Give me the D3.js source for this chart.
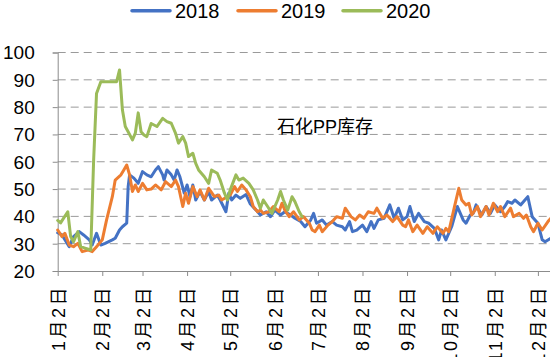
<!DOCTYPE html>
<html><head><meta charset="utf-8">
<script src="https://cdn.jsdelivr.net/npm/d3@7"></script>
<style>
html,body{margin:0;padding:0;background:#fff;}
svg{display:block;font-family:"Liberation Sans",Arial,"Noto Sans CJK SC",sans-serif;}
</style></head>
<body><svg id="chart" width="550" height="357"></svg>
<script>
const seriesNames = ["2018","2019","2020"];
const seriesColors = ["#4472C4","#ED7D31","#9BBB59"];
const yTicks = [20,30,40,50,60,70,80,90,100];
const tickMonths = [1,2,3,4,5,6,7,8,9,10,11,12];
const tickLabels = ["1月2日","2月2日","3月2日","4月2日","5月2日","6月2日","7月2日","8月2日","9月2日","10月2日","11月2日","12月2日"];
const annotation = "石化PP库存";

const dates2018 = ["01-02","01-05","01-10","01-13","01-17","01-20","01-24","01-26","01-29","02-01","02-04","02-09","02-11","02-14","02-16","02-19","02-20","02-21","02-24","02-27","03-02","03-05","03-08","03-11","03-13","03-16","03-17","03-19","03-22","03-24","03-26","03-28","03-31","04-02","04-04","04-06","04-08","04-11","04-14","04-17","04-19","04-23","04-25","04-29","05-01","05-03","05-06","05-09","05-13","05-16","05-20","05-23","05-27","05-30","06-02","06-06","06-09","06-13","06-16","06-20","06-23","06-27","06-29","07-01","07-05","07-08","07-12","07-15","07-19","07-21","07-24","07-26","07-29","08-02","08-05","08-08","08-10","08-13","08-17","08-21","08-24","08-27","08-30","09-02","09-04","09-07","09-10","09-14","09-17","09-21","09-24","09-26","09-29","10-03","10-07","10-11","10-13","10-16","10-18","10-20","10-24","10-27","10-30","11-02","11-06","11-09","11-11","11-14","11-16","11-20","11-23","11-25","11-28","11-30","12-02","12-05","12-07","12-11","12-14"];
const values2018 = [34,33.2,28.9,32.6,34.4,33.2,31.4,29.5,33.8,29.5,30.1,31.4,32,35,36.2,37.5,50.9,55.2,54,52.1,56.4,55.2,54.5,57,58.2,55.2,53.3,57,55.2,53.3,57,54.5,48.5,51.5,47.2,51.5,46,49.1,46,49.1,46,47.8,46,41.7,48.5,46,47.8,46.6,48,44.5,42.3,40.5,41.7,39.9,42.3,40.5,41.7,40.5,39.3,38.1,36.2,38.7,41.1,37.5,38.7,36.8,38.1,36.8,36.2,35,38.1,34.4,35,36.8,34.4,38.1,35.6,38.7,39.3,44.2,39.3,43,38.7,39.9,43.6,38.1,41.1,38.1,37.5,35.6,31.4,35,31.4,36.2,43.6,38.7,37.5,40.5,41.1,44.2,40.5,43.6,41.1,44.2,41.7,43.6,45.4,44.8,46,44.2,46,47.2,39.9,38.7,37.5,31.4,30.7,32,33];

const dates2019 = ["01-02","01-05","01-07","01-10","01-13","01-16","01-19","01-23","01-26","01-29","02-02","02-05","02-09","02-11","02-15","02-17","02-19","02-21","02-23","02-25","02-27","03-02","03-05","03-08","03-11","03-15","03-18","03-22","03-25","03-27","03-30","04-01","04-03","04-06","04-09","04-11","04-14","04-17","04-21","04-24","04-26","04-30","05-02","05-05","05-07","05-10","05-13","05-16","05-18","05-21","05-23","05-25","05-29","06-01","06-05","06-07","06-09","06-12","06-15","06-19","06-22","06-26","06-28","06-30","07-03","07-05","07-09","07-12","07-15","07-19","07-21","07-25","07-28","07-31","08-03","08-06","08-10","08-12","08-16","08-19","08-23","08-26","08-30","09-01","09-03","09-06","09-09","09-13","09-16","09-20","09-23","09-27","09-29","10-01","10-05","10-08","10-10","10-13","10-15","10-17","10-21","10-23","10-27","10-29","11-01","11-04","11-06","11-09","11-13","11-15","11-19","11-22","11-24","11-27","11-29","12-02","12-05","12-09","12-11","12-14"];
const values2019 = [35,32.6,33.8,29.5,28.9,30.1,27.1,27.7,27.1,28.9,31.4,38.7,47.2,53.3,55.2,57,58.8,55.2,49.1,51.5,49.1,52.1,49.7,50,51.5,49.7,52.7,50.9,53.3,50.9,43.6,48.5,44.8,50.9,47.2,49.7,46,50.3,47.2,47.8,46,47.2,47.8,50.9,49.1,51.5,49.7,47.2,43.6,41.7,42.3,41.1,41.7,43.6,41.7,44.8,42.3,39.9,41.7,38.7,39.9,37.5,35,34.4,36.8,34.4,36.8,38.1,39.9,39.3,43,39.9,38.7,40.5,39.3,41.7,41.1,43,39.3,40.5,38.1,39.9,36.8,36.2,38.7,34.4,36.8,33.8,36.2,33.8,36.2,33.8,35.6,34.4,43.6,50.3,46,44.2,44.8,40.5,43.6,39.9,43.6,40.5,44.8,41.7,43.6,39.9,43,39.9,41.1,39.3,40.5,36.2,34.4,37.5,35,38.1,39.3,40];

const dates2020 = ["01-02","01-04","01-09","01-11","01-13","01-16","01-18","01-21","01-25","01-27","01-29","02-01","02-12","02-14","02-16","02-18","02-20","02-23","02-25","02-27","03-01","03-03","03-05","03-08","03-12","03-16","03-19","03-22","03-25","03-27","03-30","04-01","04-03","04-06","04-08","04-10","04-14","04-17","04-19","04-23","04-25","04-28","04-30","05-02","05-06","05-08","05-11","05-15","05-18","05-21","05-23","05-25","05-28","05-31","06-04","06-06","06-08","06-11","06-14","06-16","06-19","06-21"];
const values2020 = [38.5,37.6,41.7,32.6,30.7,34.4,28.9,28.4,27.7,60.7,85,89.3,89.3,93.6,79,72.9,71,68,70.5,77.9,71,69.8,69.2,74,72.9,75.9,74.7,74.1,70.4,66.8,69.2,66.8,61.9,63.1,59.4,57,54.5,52.1,57,55.8,53.3,48.5,46,49.7,55.2,53.3,54,52.1,49.7,46,43,46,43.6,41.1,46,49.1,46,42.3,47.2,45.4,41.7,39.9];

(function(){
// common axis year (non-leap) used to overlay the seasons
const baseYear = 2018;
const parseMD = md => { const [m,d] = md.split("-").map(Number); return new Date(baseYear, m-1, d); };
const allDates = [dates2018, dates2019, dates2020];
const allValues = [values2018, values2019, values2020];
const series = seriesNames.map((name,i) => ({
  name, color: seriesColors[i],
  points: allDates[i].map((md,j) => ({date: parseMD(md), value: allValues[i][j]}))
}));

const svg = d3.select("#chart");
const plotLeft = 57.7, plotBottom = 271, plotTop = 52.5;
const pxPerDay = 1.4377;
const x = d3.scaleTime()
  .domain([new Date(baseYear,0,2), new Date(baseYear,11,31)])
  .range([plotLeft, plotLeft + 363*pxPerDay]);
const y = d3.scaleLinear().domain([20,100]).range([plotBottom, plotTop]);

// gridlines
svg.append("g").selectAll("line").data(yTicks.filter(v => v > 20)).join("line")
  .attr("x1", plotLeft).attr("x2", 550)
  .attr("y1", d => y(d)).attr("y2", d => y(d))
  .attr("stroke", "#9a9a9a").attr("stroke-width", 1)
  .attr("stroke-dasharray", "8,5");

// y axis
const yAxis = svg.append("g").attr("transform", `translate(${plotLeft},0)`)
  .call(d3.axisLeft(y).tickValues(yTicks).tickSize(5).tickPadding(18).tickFormat(d3.format("d")));
yAxis.select(".domain").attr("stroke", "#8c8c8c");
yAxis.selectAll(".tick line").attr("stroke", "#8c8c8c");
yAxis.selectAll("text").attr("font-size", 19).attr("fill", "#000")
  .attr("font-family", "'Liberation Sans', Arial, sans-serif").attr("dy", "0.34em");

// x axis
const tickDates = tickMonths.map(m => new Date(baseYear, m-1, 2));
const xAxis = svg.append("g").attr("transform", `translate(0,${plotBottom})`)
  .call(d3.axisBottom(x).tickValues(tickDates).tickSize(5).tickSizeOuter(0)
    .tickFormat((d,i) => tickLabels[i]));
xAxis.select(".domain").attr("stroke", "#8c8c8c");
xAxis.selectAll(".tick line").attr("stroke", "#8c8c8c");
xAxis.selectAll("text")
  .attr("transform", "rotate(-90)")
  .attr("text-anchor", "end")
  .attr("x", -14).attr("y", 0).attr("dy", "0.36em")
  .attr("font-size", 18).attr("fill", "#000")
  .attr("letter-spacing", "2.5px")
  .attr("font-family", "'Liberation Sans', Arial, 'Noto Sans CJK SC', sans-serif");

// lines
const line = d3.line().x(d => x(d.date)).y(d => y(d.value));
svg.append("g").selectAll("path").data(series).join("path")
  .attr("d", d => line(d.points))
  .attr("fill", "none")
  .attr("stroke", d => d.color)
  .attr("stroke-width", 3)
  .attr("stroke-linejoin", "round")
  .attr("stroke-linecap", "round");

// annotation
svg.append("text").attr("x", 277).attr("y", 133)
  .attr("font-size", 18).attr("fill", "#000")
  .attr("font-family", "'Liberation Sans', Arial, 'Noto Sans CJK SC', sans-serif")
  .text(annotation);

// legend
const legendX = [132, 238, 343];
const lg = svg.append("g").selectAll("g").data(series).join("g")
  .attr("transform", (d,i) => `translate(${legendX[i]},0)`);
lg.append("line").attr("x1", 0).attr("x2", 38).attr("y1", 10.7).attr("y2", 10.7)
  .attr("stroke", d => d.color).attr("stroke-width", 3.5).attr("stroke-linecap", "round");
lg.append("text").attr("x", 43).attr("y", 17.5).attr("font-size", 20).attr("fill", "#000")
  .attr("font-family", "'Liberation Sans', Arial, sans-serif")
  .text(d => d.name);
})();
</script></body></html>
